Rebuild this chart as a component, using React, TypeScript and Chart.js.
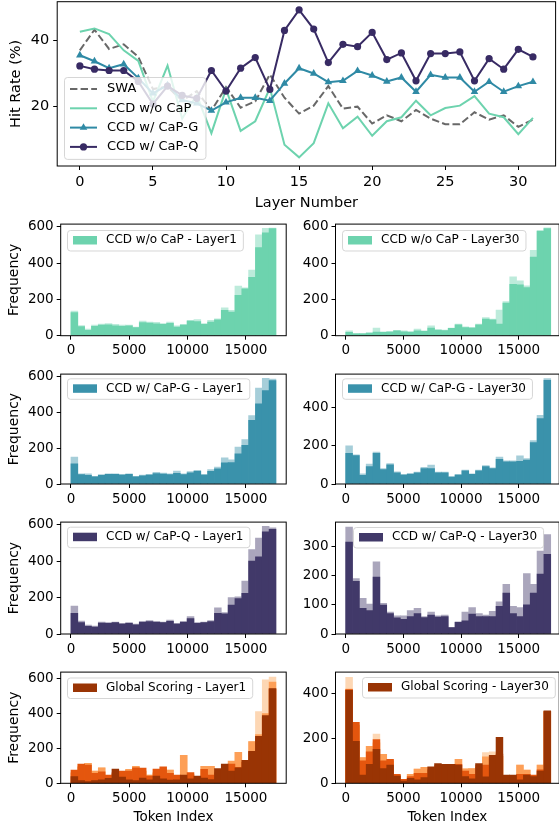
import React, { useEffect, useRef } from "react";
import { Chart, registerables } from "chart.js";

Chart.register(...registerables);

const FONT = "'DejaVu Sans', 'Liberation Sans', sans-serif";

// ---------------- Top line chart data ----------------
const layerNumbers = [0, 1, 2, 3, 4, 5, 6, 7, 8, 9, 10, 11, 12, 13, 14, 15, 16, 17, 18, 19, 20, 21, 22, 23, 24, 25, 26, 27, 28, 29, 30, 31];
const swaHit = [37.0, 43.2, 37.4, 38.8, 35.0, 25.3, 26.0, 21.8, 24.7, 18.8, 25.9, 19.7, 21.6, 29.7, 22.7, 17.9, 20.3, 26.2, 19.4, 20.0, 14.9, 17.4, 15.6, 19.0, 16.4, 14.7, 14.7, 18.3, 16.1, 17.4, 13.9, 16.1];
const ccdNoCap = [42.6, 43.6, 41.9, 37.0, 33.8, 21.5, 32.4, 16.4, 23.5, 12.0, 25.3, 12.7, 15.6, 25.6, 8.5, 4.7, 9.0, 21.0, 13.5, 17.0, 11.2, 15.6, 16.8, 21.8, 17.4, 19.6, 20.3, 23.2, 17.9, 16.8, 11.7, 16.6];
const ccdCapG = [35.5, 33.7, 31.6, 32.8, 28.6, 24.0, 26.5, 22.0, 21.0, 18.8, 21.3, 22.7, 22.7, 21.8, 27.0, 31.6, 30.0, 27.4, 27.8, 30.8, 29.4, 27.6, 28.8, 24.5, 29.6, 28.8, 28.8, 24.5, 27.5, 24.5, 26.2, 27.5];
const ccdCapQ = [32.3, 31.3, 30.9, 30.9, 27.6, 20.8, 26.2, 23.4, 22.5, 30.9, 24.7, 31.6, 34.8, 25.2, 43.0, 49.2, 43.4, 33.3, 38.8, 38.1, 42.4, 34.2, 36.2, 27.8, 36.0, 36.0, 36.5, 27.8, 34.5, 31.3, 37.3, 35.0];
const layerTicks = [0, 5, 10, 15, 20, 25, 30];
const hitRateTicks = [20, 40];

// ---------------- Histogram data (30 bins each) ----------------
const tokenTicks = [0, 5000, 10000, 15000];

const greenL1Peak = [135, 56, 36, 58, 64, 67, 62, 58, 58, 48, 80, 75, 73, 67, 75, 55, 62, 85, 89, 67, 85, 93, 153, 140, 273, 264, 362, 555, 591, 593];
const greenL1Base = [128, 50, 30, 52, 58, 60, 55, 52, 55, 45, 72, 70, 66, 62, 68, 48, 58, 80, 78, 62, 75, 88, 140, 130, 222, 258, 322, 486, 567, 590];
const greenL30Peak = [27, 13, 13, 16, 42, 22, 24, 30, 27, 22, 37, 27, 55, 35, 31, 42, 64, 49, 46, 64, 100, 91, 141, 188, 324, 302, 274, 470, 580, 594];
const greenL30Base = [18, 10, 10, 14, 20, 18, 20, 27, 22, 20, 27, 24, 42, 30, 28, 40, 60, 45, 42, 60, 91, 88, 64, 180, 283, 280, 265, 433, 575, 590];

const tealL1Peak = [150, 57, 57, 43, 52, 57, 57, 54, 57, 43, 50, 54, 65, 61, 57, 72, 57, 69, 76, 54, 80, 94, 146, 135, 206, 248, 381, 535, 589, 585];
const tealL1Base = [113, 52, 48, 40, 48, 54, 54, 50, 54, 40, 46, 50, 58, 55, 52, 60, 52, 62, 70, 50, 70, 85, 118, 120, 168, 215, 354, 446, 520, 576];
const tealL30Peak = [198, 152, 53, 104, 166, 80, 106, 63, 50, 55, 62, 87, 99, 62, 62, 39, 50, 72, 53, 72, 96, 84, 140, 121, 121, 147, 132, 226, 357, 549];
const tealL30Base = [160, 148, 45, 90, 160, 75, 100, 58, 46, 50, 58, 80, 80, 58, 58, 36, 46, 68, 50, 68, 90, 80, 128, 115, 115, 118, 125, 215, 340, 540];

const purpleL1Peak = [153, 71, 49, 44, 66, 62, 66, 58, 62, 55, 69, 73, 69, 66, 77, 58, 69, 95, 62, 66, 73, 144, 117, 200, 204, 290, 463, 527, 591, 582];
const purpleL1Base = [113, 62, 42, 38, 60, 58, 62, 55, 58, 50, 64, 68, 64, 62, 70, 55, 64, 85, 58, 62, 68, 113, 110, 159, 195, 223, 400, 423, 560, 575];
const purpleL30Peak = [366, 190, 122, 102, 247, 105, 75, 62, 62, 80, 88, 60, 75, 62, 65, 22, 42, 75, 90, 70, 65, 78, 110, 170, 95, 90, 207, 170, 284, 340];
const purpleL30Base = [315, 180, 88, 80, 195, 99, 70, 55, 50, 60, 70, 56, 65, 58, 60, 22, 40, 45, 68, 60, 60, 60, 95, 140, 70, 60, 100, 140, 205, 273];

const globalL1Dark = [38, 15, 10, 15, 20, 28, 81, 35, 20, 15, 30, 20, 42, 25, 18, 20, 47, 25, 42, 30, 22, 85, 110, 70, 89, 132, 184, 270, 388, 543];
const globalL1Orange = [76, 110, 104, 57, 66, 47, 60, 70, 70, 89, 87, 42, 81, 95, 57, 47, 40, 62, 30, 80, 47, 60, 80, 110, 91, 120, 180, 260, 380, 540];
const globalL1Light = [60, 95, 114, 70, 89, 40, 50, 60, 80, 98, 70, 47, 60, 80, 76, 40, 161, 50, 35, 98, 98, 70, 90, 127, 178, 130, 240, 280, 400, 581];
const globalL1Peach = [60, 95, 114, 70, 89, 40, 50, 60, 80, 98, 70, 47, 60, 80, 76, 40, 161, 50, 35, 98, 98, 70, 90, 100, 178, 130, 240, 411, 593, 610];

const globalL30Dark = [415, 187, 37, 85, 151, 66, 81, 32, 10, 22, 15, 26, 73, 88, 85, 85, 81, 30, 20, 88, 29, 125, 205, 37, 37, 15, 37, 30, 55, 323];
const globalL30Orange = [418, 272, 100, 140, 195, 100, 107, 40, 18, 30, 45, 45, 60, 70, 70, 80, 85, 55, 40, 70, 81, 110, 130, 30, 35, 40, 40, 37, 60, 320];
const globalL30Light = [420, 260, 115, 165, 180, 129, 100, 35, 15, 40, 63, 71, 65, 80, 75, 82, 107, 65, 66, 80, 118, 120, 120, 30, 35, 81, 59, 35, 81, 320];
const globalL30Peach = [473, 260, 115, 165, 220, 129, 100, 35, 15, 40, 63, 71, 65, 80, 75, 82, 107, 65, 66, 80, 137, 140, 120, 30, 35, 81, 59, 35, 81, 320];

// ---------------- colours ----------------
const GRAY = "#686868";
const GREEN = "#6dd3ae";
const TEAL_LINE = "#2f8aa5";
const PURPLE_LINE = "#382b64";
const TEAL = "#3a92ab";
const PURPLE = "#413969";
const OR_DARK = "#993404";
const OR_MID = "#e4560e";
const OR_LIGHT = "#fd9f57";
const OR_PEACH = "#fdd7b4";

function tint(hex: string, a: number) {
  const n = parseInt(hex.slice(1), 16);
  const r = (n >> 16) & 255, g = (n >> 8) & 255, b = n & 255;
  const f = (c: number) => Math.round(255 - (255 - c) * a);
  return `rgb(${f(r)},${f(g)},${f(b)})`;
}

// ---------------- plugins ----------------
const framePlugin = {
  id: "mplFrame",
  afterDatasetsDraw(chart: any) {
    const { ctx, chartArea } = chart;
    const { left, top, right, bottom } = chartArea;
    ctx.save();
    ctx.strokeStyle = "#000";
    ctx.lineWidth = 1;
    ctx.strokeRect(left, top, right - left, bottom - top);
    ctx.restore();
  },
};

type LegendItem = { label: string; kind: "patch" | "line"; color: string; dash?: number[]; marker?: "triangle" | "circle" };
type LegendSpec = {
  left: number; top: number; fontSize: number; firstRow: number; rowH: number; padBottom: number;
  handleX0: number; handleX1: number; patchH: number; textX: number; padRight: number; items: LegendItem[];
};

function roundRectPath(ctx: CanvasRenderingContext2D, x: number, y: number, w: number, h: number, r: number) {
  ctx.beginPath();
  ctx.moveTo(x + r, y);
  ctx.lineTo(x + w - r, y);
  ctx.arcTo(x + w, y, x + w, y + r, r);
  ctx.lineTo(x + w, y + h - r);
  ctx.arcTo(x + w, y + h, x + w - r, y + h, r);
  ctx.lineTo(x + r, y + h);
  ctx.arcTo(x, y + h, x, y + h - r, r);
  ctx.lineTo(x, y + r);
  ctx.arcTo(x, y, x + r, y, r);
  ctx.closePath();
}

function makeLegendPlugin(spec: LegendSpec) {
  return {
    id: "mplLegend",
    afterDraw(chart: any) {
      const ctx: CanvasRenderingContext2D = chart.ctx;
      ctx.save();
      ctx.font = `${spec.fontSize}px ${FONT}`;
      let tw = 0;
      for (const it of spec.items) tw = Math.max(tw, ctx.measureText(it.label).width);
      const w = spec.textX + tw + spec.padRight;
      const h = spec.firstRow + (spec.items.length - 1) * spec.rowH + spec.padBottom;
      const x = spec.left, y = spec.top;
      roundRectPath(ctx, x + 0.5, y + 0.5, w, h, 3);
      ctx.fillStyle = "rgba(255,255,255,0.8)";
      ctx.fill();
      ctx.strokeStyle = "rgba(204,204,204,0.8)";
      ctx.lineWidth = 1;
      ctx.stroke();
      spec.items.forEach((it, i) => {
        const cy = y + spec.firstRow + i * spec.rowH;
        if (it.kind === "patch") {
          ctx.fillStyle = it.color;
          ctx.fillRect(x + spec.handleX0, cy - spec.patchH / 2, spec.handleX1 - spec.handleX0, spec.patchH);
        } else {
          ctx.save();
          ctx.strokeStyle = it.color;
          ctx.lineWidth = 2;
          ctx.setLineDash(it.dash || []);
          ctx.beginPath();
          ctx.moveTo(x + spec.handleX0, cy);
          ctx.lineTo(x + spec.handleX1, cy);
          ctx.stroke();
          ctx.restore();
          const mx = x + (spec.handleX0 + spec.handleX1) / 2;
          ctx.fillStyle = it.color;
          if (it.marker === "circle") {
            ctx.beginPath();
            ctx.arc(mx, cy, 3.6, 0, Math.PI * 2);
            ctx.fill();
          } else if (it.marker === "triangle") {
            const r = 4.4;
            ctx.beginPath();
            ctx.moveTo(mx, cy - r);
            ctx.lineTo(mx + r * Math.sin((2 * Math.PI) / 3), cy - r * Math.cos((2 * Math.PI) / 3));
            ctx.lineTo(mx + r * Math.sin((4 * Math.PI) / 3), cy - r * Math.cos((4 * Math.PI) / 3));
            ctx.closePath();
            ctx.fill();
          }
        }
        ctx.fillStyle = "#000";
        ctx.textBaseline = "middle";
        ctx.textAlign = "left";
        ctx.fillText(it.label, x + spec.textX, cy);
      });
      ctx.restore();
    },
  };
}

// ---------------- geometry helper ----------------
function geom(x0: number, x1: number, y0: number, y1: number, canvasLeft: number, xAxisHNom: number) {
  const top = Math.floor(y0 - 10);
  const padTop = y0 - top;
  const height = Math.ceil(y1 + xAxisHNom - top);
  const xAxisH = height - (y1 - top);
  const yAxisW = x0 - canvasLeft;
  const width = Math.ceil(x1 - canvasLeft + 1);
  const padRight = width - (x1 - canvasLeft);
  return { left: canvasLeft, top, width, height, padTop, padRight, xAxisH, yAxisW };
}

function axisBase(fontSize: number, tickList: number[], pad: number) {
  return {
    grid: { display: true, drawOnChartArea: false, drawTicks: true, tickLength: 4, tickWidth: 1, tickColor: "#000", offset: false },
    border: { display: false },
    ticks: {
      font: { family: FONT, size: fontSize },
      color: "#000",
      padding: pad,
      autoSkip: false,
      maxRotation: 0,
      minRotation: 0,
      callback: (v: any) => String(v),
    },
    afterBuildTicks: (scale: any) => {
      scale.ticks = tickList.map((v) => ({ value: v }));
    },
  };
}

// ---------------- Chart canvas component ----------------
function ChartBox({ g, config }: { g: any; config: any }) {
  const ref = useRef<HTMLCanvasElement>(null);
  useEffect(() => {
    const chart = new Chart(ref.current as HTMLCanvasElement, config);
    return () => chart.destroy();
  }, []);
  return (
    <canvas
      ref={ref}
      width={g.width}
      height={g.height}
      style={{ position: "absolute", left: g.left, top: g.top, width: g.width, height: g.height }}
    />
  );
}

// ---------------- top chart config ----------------
function buildLineChart() {
  const g = geom(57.2, 558.6, -1, 166, 0, 47);
  const pts = (arr: number[]) => layerNumbers.map((l, i) => ({ x: l, y: arr[i] }));
  const xAxis: any = {
    type: "linear",
    min: -1.55,
    max: 32.55,
    ...axisBase(14.5, layerTicks, 4),
    afterFit: (s: any) => { s.height = g.xAxisH; },
    title: { display: true, text: "Layer Number", color: "#000", font: { family: FONT, size: 14.5 }, padding: { top: 0, bottom: 1.3 } },
  };
  const yAxis: any = {
    type: "linear",
    min: 2.1,
    max: 51.66,
    ...axisBase(14.5, hitRateTicks, 4),
    afterFit: (s: any) => { s.width = g.yAxisW; },
    title: { display: true, text: "Hit Rate (%)", color: "#000", font: { family: FONT, size: 14.5 }, padding: { top: 7.3, bottom: 0 } },
  };
  const legend = makeLegendPlugin({
    left: 64 - g.left, top: 77 - g.top, fontSize: 13, firstRow: 12, rowH: 19.3, padBottom: 12,
    handleX0: 6, handleX1: 33, patchH: 0, textX: 43, padRight: 7,
    items: [
      { label: "SWA", kind: "line", color: GRAY, dash: [7.4, 3.2] },
      { label: "CCD w/o CaP", kind: "line", color: GREEN },
      { label: "CCD w/ CaP-G", kind: "line", color: TEAL_LINE, marker: "triangle" },
      { label: "CCD w/ CaP-Q", kind: "line", color: PURPLE_LINE, marker: "circle" },
    ],
  });
  const config = {
    type: "line",
    data: {
      datasets: [
        { label: "SWA", data: pts(swaHit), borderColor: GRAY, backgroundColor: GRAY, borderWidth: 2, borderDash: [7.4, 3.2], pointRadius: 0, order: 4, tension: 0, fill: false },
        { label: "CCD w/o CaP", data: pts(ccdNoCap), borderColor: GREEN, backgroundColor: GREEN, borderWidth: 2, pointRadius: 0, order: 3, tension: 0, fill: false },
        { label: "CCD w/ CaP-G", data: pts(ccdCapG), borderColor: TEAL_LINE, backgroundColor: TEAL_LINE, borderWidth: 2, pointStyle: "triangle", pointRadius: 4.4, pointBorderWidth: 0, pointBackgroundColor: TEAL_LINE, order: 2, tension: 0, fill: false },
        { label: "CCD w/ CaP-Q", data: pts(ccdCapQ), borderColor: PURPLE_LINE, backgroundColor: PURPLE_LINE, borderWidth: 2, pointStyle: "circle", pointRadius: 3.6, pointBorderWidth: 0, pointBackgroundColor: PURPLE_LINE, order: 1, tension: 0, fill: false },
      ],
    },
    options: {
      responsive: false,
      animation: false,
      devicePixelRatio: 1,
      layout: { padding: { top: g.padTop, right: g.padRight, left: 0, bottom: 0 } },
      plugins: { legend: { display: false }, tooltip: { enabled: false } },
      scales: { x: xAxis, y: yAxis },
    },
    plugins: [framePlugin, legend],
  };
  return { g, config };
}

// ---------------- histogram panels ----------------
type HistSpec = {
  x0: number; x1: number; y0: number; y1: number; canvasLeft: number;
  xMin: number; xMax: number; yMax: number; yTicks: number[]; binW: number;
  layers: { data: number[]; color: string }[];
  label: string; legendColor: string; legendLeft: number; legendTop: number;
  yLabel: boolean; xLabel: boolean;
};

const LEFT = { x0: 60.7, x1: 286.2, canvasLeft: 0, xMin: -879, xMax: 18451, binW: 585.7 };
const RIGHT = { x0: 335.5, x1: 559.2, canvasLeft: 275, xMin: -884, xMax: 18510, binW: 592.5 };
const ROW1 = { y0: 223, y1: 335.7 };
const ROW2 = { y0: 373.5, y1: 484 };
const ROW3 = { y0: 521.7, y1: 634 };
const ROW4 = { y0: 671, y1: 783.3 };

const PEAK_A = 0.45;

const histSpecs: HistSpec[] = [
  { ...LEFT, ...ROW1, yMax: 614.7, yTicks: [0, 200, 400, 600], layers: [{ data: greenL1Base, color: GREEN }, { data: greenL1Peak, color: tint(GREEN, PEAK_A) }], label: "CCD w/o CaP - Layer1", legendColor: GREEN, legendLeft: 67, legendTop: 230, yLabel: true, xLabel: false },
  { ...RIGHT, ...ROW1, yMax: 614.7, yTicks: [0, 200, 400, 600], layers: [{ data: greenL30Base, color: GREEN }, { data: greenL30Peak, color: tint(GREEN, PEAK_A) }], label: "CCD w/o CaP - Layer30", legendColor: GREEN, legendLeft: 342, legendTop: 230, yLabel: false, xLabel: false },
  { ...LEFT, ...ROW2, yMax: 612.2, yTicks: [0, 200, 400, 600], layers: [{ data: tealL1Base, color: TEAL }, { data: tealL1Peak, color: tint(TEAL, PEAK_A) }], label: "CCD w/ CaP-G - Layer1", legendColor: TEAL, legendLeft: 67, legendTop: 378.3, yLabel: true, xLabel: false },
  { ...RIGHT, ...ROW2, yMax: 571.8, yTicks: [0, 200, 400], layers: [{ data: tealL30Base, color: TEAL }, { data: tealL30Peak, color: tint(TEAL, PEAK_A) }], label: "CCD w/ CaP-G - Layer30", legendColor: TEAL, legendLeft: 342, legendTop: 378.3, yLabel: false, xLabel: false },
  { ...LEFT, ...ROW3, yMax: 614, yTicks: [0, 200, 400, 600], layers: [{ data: purpleL1Base, color: PURPLE }, { data: purpleL1Peak, color: tint(PURPLE, PEAK_A) }], label: "CCD w/ CaP-Q - Layer1", legendColor: PURPLE, legendLeft: 67, legendTop: 526.7, yLabel: true, xLabel: false },
  { ...RIGHT, ...ROW3, yMax: 383, yTicks: [0, 100, 200, 300], layers: [{ data: purpleL30Base, color: PURPLE }, { data: purpleL30Peak, color: tint(PURPLE, PEAK_A) }], label: "CCD w/ CaP-Q - Layer30", legendColor: PURPLE, legendLeft: 353, legendTop: 527, yLabel: false, xLabel: false },
  { ...LEFT, ...ROW4, yMax: 638, yTicks: [0, 200, 400, 600], layers: [{ data: globalL1Dark, color: OR_DARK }, { data: globalL1Orange, color: OR_MID }, { data: globalL1Light, color: OR_LIGHT }, { data: globalL1Peach, color: OR_PEACH }], label: "Global Scoring - Layer1", legendColor: OR_DARK, legendLeft: 67, legendTop: 677.5, yLabel: true, xLabel: true },
  { ...RIGHT, ...ROW4, yMax: 496, yTicks: [0, 200, 400], layers: [{ data: globalL30Dark, color: OR_DARK }, { data: globalL30Orange, color: OR_MID }, { data: globalL30Light, color: OR_LIGHT }, { data: globalL30Peach, color: OR_PEACH }], label: "Global Scoring - Layer30", legendColor: OR_DARK, legendLeft: 362, legendTop: 677, yLabel: false, xLabel: true },
];

function buildHist(spec: HistSpec) {
  const g = geom(spec.x0, spec.x1, spec.y0, spec.y1, spec.canvasLeft, spec.xLabel ? 44 : 26);
  const xAxis: any = {
    type: "linear",
    min: spec.xMin,
    max: spec.xMax,
    offset: false,
    ...axisBase(13.5, tokenTicks, 3),
    afterFit: (s: any) => { s.height = g.xAxisH; },
    title: { display: spec.xLabel, text: "Token Index", color: "#000", font: { family: FONT, size: 13.5 }, padding: { top: 0, bottom: 2.2 } },
  };
  const yAxis: any = {
    type: "linear",
    min: 0,
    max: spec.yMax,
    ...axisBase(13.5, spec.yTicks, 3),
    afterFit: (s: any) => { s.width = g.yAxisW; },
    title: { display: spec.yLabel, text: "Frequency", color: "#000", font: { family: FONT, size: 14 }, padding: { top: 5.6, bottom: 0 } },
  };
  const legend = makeLegendPlugin({
    left: spec.legendLeft - g.left, top: spec.legendTop - g.top, fontSize: 12, firstRow: 10.25, rowH: 0, padBottom: 10.25,
    handleX0: 6, handleX1: 30, patchH: 8.5, textX: 39, padRight: 6,
    items: [{ label: spec.label, kind: "patch", color: spec.legendColor }],
  });
  const config = {
    type: "bar",
    data: {
      datasets: spec.layers.map((layer, li) => ({
        label: `${spec.label}-${li}`,
        data: layer.data.map((v, i) => ({ x: spec.binW * (i + 0.5), y: v })),
        backgroundColor: layer.color,
        borderWidth: 0,
        barPercentage: 1,
        categoryPercentage: 1,
        grouped: false,
        order: li + 1,
      })),
    },
    options: {
      responsive: false,
      animation: false,
      devicePixelRatio: 1,
      layout: { padding: { top: g.padTop, right: g.padRight, left: 0, bottom: 0 } },
      plugins: { legend: { display: false }, tooltip: { enabled: false } },
      scales: { x: xAxis, y: yAxis },
    },
    plugins: [framePlugin, legend],
  };
  return { g, config };
}

export default function App() {
  const line = buildLineChart();
  const hists = histSpecs.map(buildHist);
  return (
    <div style={{ position: "absolute", left: 0, top: 0, width: 559, height: 827, overflow: "hidden", background: "#fff" }}>
      <ChartBox g={line.g} config={line.config} />
      {hists.map((h, i) => (
        <ChartBox key={i} g={h.g} config={h.config} />
      ))}
    </div>
  );
}
